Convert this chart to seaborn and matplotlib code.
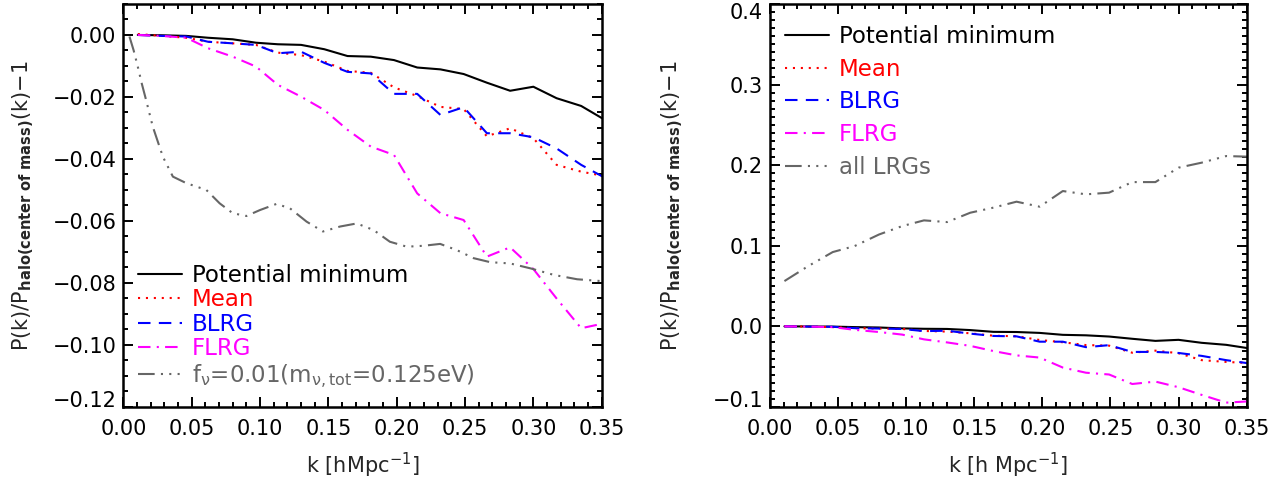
import numpy as np
import pandas as pd
import matplotlib
matplotlib.use("Agg")
import matplotlib.pyplot as plt
import matplotlib.transforms as mtransforms
from matplotlib.ticker import MultipleLocator, FuncFormatter
import seaborn as sns

# Wavenumbers of the binned power spectra [h/Mpc]
k_bins = [0.0105, 0.028, 0.046, 0.062, 0.080, 0.097, 0.113, 0.130, 0.147, 0.164,
          0.181, 0.198, 0.215, 0.232, 0.249, 0.266, 0.283, 0.300, 0.317, 0.335, 0.352]

# P(k)/P_halo(center of mass)(k) - 1 for each halo-centre definition
pot_min = [0.0, -0.0001, -0.0003, -0.0009, -0.0014, -0.0025, -0.0030, -0.0032, -0.0046, -0.0068,
           -0.0070, -0.0081, -0.0105, -0.0111, -0.0126, -0.0154, -0.0180, -0.0167, -0.0204, -0.0229, -0.0273]
mean_pos = [0.0003, -0.0003, -0.0009, -0.0022, -0.0027, -0.0032, -0.0057, -0.0065, -0.0086, -0.0116,
            -0.0122, -0.0169, -0.0197, -0.0232, -0.0239, -0.0327, -0.0301, -0.0333, -0.0419, -0.0441, -0.0455]
blrg = [0.0, -0.0003, -0.0005, -0.0022, -0.0027, -0.0032, -0.0059, -0.0054, -0.0090, -0.0119,
        -0.0124, -0.0190, -0.0190, -0.0258, -0.0233, -0.0317, -0.0317, -0.0330, -0.0366, -0.0419, -0.0460]
flrg = [0.0, -0.0003, -0.0009, -0.0043, -0.0070, -0.0102, -0.0161, -0.0199, -0.0242, -0.0306,
        -0.0360, -0.0387, -0.0511, -0.0575, -0.0597, -0.0715, -0.0685, -0.0755, -0.0850, -0.0946, -0.0930]

# All LRGs relative to the halo centre of mass
all_lrgs = [0.0562, 0.0748, 0.0922, 0.0996, 0.1140, 0.1244, 0.1315, 0.1294, 0.1410, 0.1473,
            0.1547, 0.1485, 0.1679, 0.1638, 0.1659, 0.1790, 0.1790, 0.1969, 0.2031, 0.2113, 0.2105]

# Massive-neutrino suppression, f_nu = 0.01
k_nu = [0.0044, 0.0075, 0.0105, 0.0135, 0.0166, 0.0215, 0.0289, 0.0362, 0.046, 0.0607, 0.0704, 0.080,
        0.090, 0.0998, 0.112, 0.1218, 0.134, 0.146, 0.1585, 0.1707, 0.183, 0.195,
        0.2074, 0.2196, 0.2318, 0.244, 0.2563, 0.2685, 0.283, 0.298, 0.315, 0.332, 0.350]
nu_supp = [-0.0005, -0.0050, -0.0102, -0.0158, -0.0210, -0.0296, -0.0393, -0.0457, -0.0478, -0.0500,
           -0.0543, -0.0575, -0.0584, -0.0565, -0.0545, -0.0559, -0.0602, -0.0634, -0.0618, -0.0608,
           -0.0629, -0.0667, -0.0683, -0.0680, -0.0674, -0.0694, -0.0720, -0.0733, -0.0737, -0.0753,
           -0.0774, -0.0788, -0.0794]

legend_left = ["Potential minimum", "Mean", "BLRG", "FLRG",
               r"f$_{\nu}$=0.01(m$_{\nu,\mathrm{tot}}$=0.125eV)"]
legend_right = ["Potential minimum", "Mean", "BLRG", "FLRG", "all LRGs"]

GRAY = "#666666"
styles = [
    dict(color="black", linestyle="-"),
    dict(color="#ff0000", linestyle=(0, (1, 2.8))),
    dict(color="#0000ff", linestyle=(0, (6, 4))),
    dict(color="#ff00ff", linestyle=(0, (6, 3, 1, 3))),
    dict(color=GRAY, linestyle=(0, (8, 3, 1, 3, 1, 3, 1, 3))),
]

sns.set_theme(style="ticks")
plt.rcParams["font.family"] = ["DejaVu Sans"]
plt.rcParams["mathtext.fontset"] = "dejavusans"
plt.rcParams["mathtext.default"] = "regular"

fig = plt.figure(figsize=(12.87, 4.83), dpi=100)
ax1 = fig.add_axes([0.0959, 0.1574, 0.3716, 0.8344])
ax2 = fig.add_axes([0.5984, 0.1574, 0.3702, 0.8344])

LW = 1.5
TICK_FS = 15
LEG_FS = 16.5
ylab = r"P(k)/P$_{\mathbf{halo(center\ of\ mass)}}$(k)$-$1"


def fmt(decimals):
    return FuncFormatter(lambda v, pos: f"{v:.{decimals}f}".replace("-", "\u2212"))


def draw(ax, series, labels, xs_list):
    for xs, ys, lab, st in zip(xs_list, series, labels, styles):
        df = pd.DataFrame({"k": xs, "v": ys})
        sns.lineplot(data=df, x="k", y="v", ax=ax, color=st["color"],
                     linestyle=st["linestyle"], linewidth=LW, label=lab,
                     sort=False, estimator=None)


def style_axes(ax, ymajor, yminor, decimals, ylab_x):
    ax.set_xlim(0.0, 0.35)
    ax.xaxis.set_major_locator(MultipleLocator(0.05))
    ax.xaxis.set_minor_locator(MultipleLocator(0.01))
    ax.xaxis.set_major_formatter(fmt(2))
    ax.yaxis.set_major_locator(MultipleLocator(ymajor))
    ax.yaxis.set_minor_locator(MultipleLocator(yminor))
    ax.yaxis.set_major_formatter(fmt(decimals))
    ax.tick_params(which="both", direction="in", top=True, right=True, width=1.4,
                   color="black", labelsize=TICK_FS, labelcolor="black")
    ax.tick_params(which="major", length=7)
    ax.tick_params(which="minor", length=3.5)
    ax.tick_params(axis="x", which="major", pad=9)
    ax.tick_params(axis="y", which="major", pad=5)
    for sp in ax.spines.values():
        sp.set_visible(True)
        sp.set_linewidth(1.8)
        sp.set_color("black")
    ax.set_ylabel(ylab, fontsize=TICK_FS)
    ax.yaxis.set_label_coords(ylab_x, 0.5)
    ax.grid(False)


def nudge_end_labels(ax, lo, hi):
    # keep the labels at the ends of the y range inside the axes height
    fig.canvas.draw()
    for tick in ax.yaxis.get_major_ticks():
        v = tick.get_loc()
        if abs(v - lo) < 1e-9:
            dy = 8
        elif abs(v - hi) < 1e-9:
            dy = -7
        else:
            continue
        lab = tick.label1
        lab.set_transform(lab.get_transform() +
                          mtransforms.ScaledTranslation(0, dy / 100, fig.dpi_scale_trans))


# Left panel: halo centre definitions vs. neutrino signal
draw(ax1, [pot_min, mean_pos, blrg, flrg, nu_supp], legend_left,
     [k_bins, k_bins, k_bins, k_bins, k_nu])
ax1.set_ylim(-0.12, 0.01)
style_axes(ax1, 0.02, 0.005, 2, -0.183)
ax1.set_xlabel(r"k [hMpc$^{-1}$]", fontsize=TICK_FS, labelpad=8)
ax1.legend(loc="center left", bbox_to_anchor=(0.031, 0.199), frameon=False,
           fontsize=LEG_FS, labelcolor="linecolor", handlelength=1.9,
           handletextpad=0.45, labelspacing=0.07, borderpad=0, borderaxespad=0)

# Right panel: same centres plus the full LRG sample
draw(ax2, [pot_min, mean_pos, blrg, flrg, all_lrgs], legend_right, [k_bins] * 5)
ax2.set_ylim(-0.1, 0.4)
style_axes(ax2, 0.1, 0.01, 1, -0.178)
ax2.set_xlabel(r"k [h Mpc$^{-1}$]", fontsize=TICK_FS, labelpad=8)
ax2.legend(loc="center left", bbox_to_anchor=(0.0315, 0.757), frameon=False,
           fontsize=LEG_FS, labelcolor="linecolor", handlelength=1.9,
           handletextpad=0.45, labelspacing=0.42, borderpad=0, borderaxespad=0)

nudge_end_labels(ax1, -0.12, 0.01)
nudge_end_labels(ax2, -0.1, 0.4)

fig.savefig("out.png", dpi=100, facecolor="white")
